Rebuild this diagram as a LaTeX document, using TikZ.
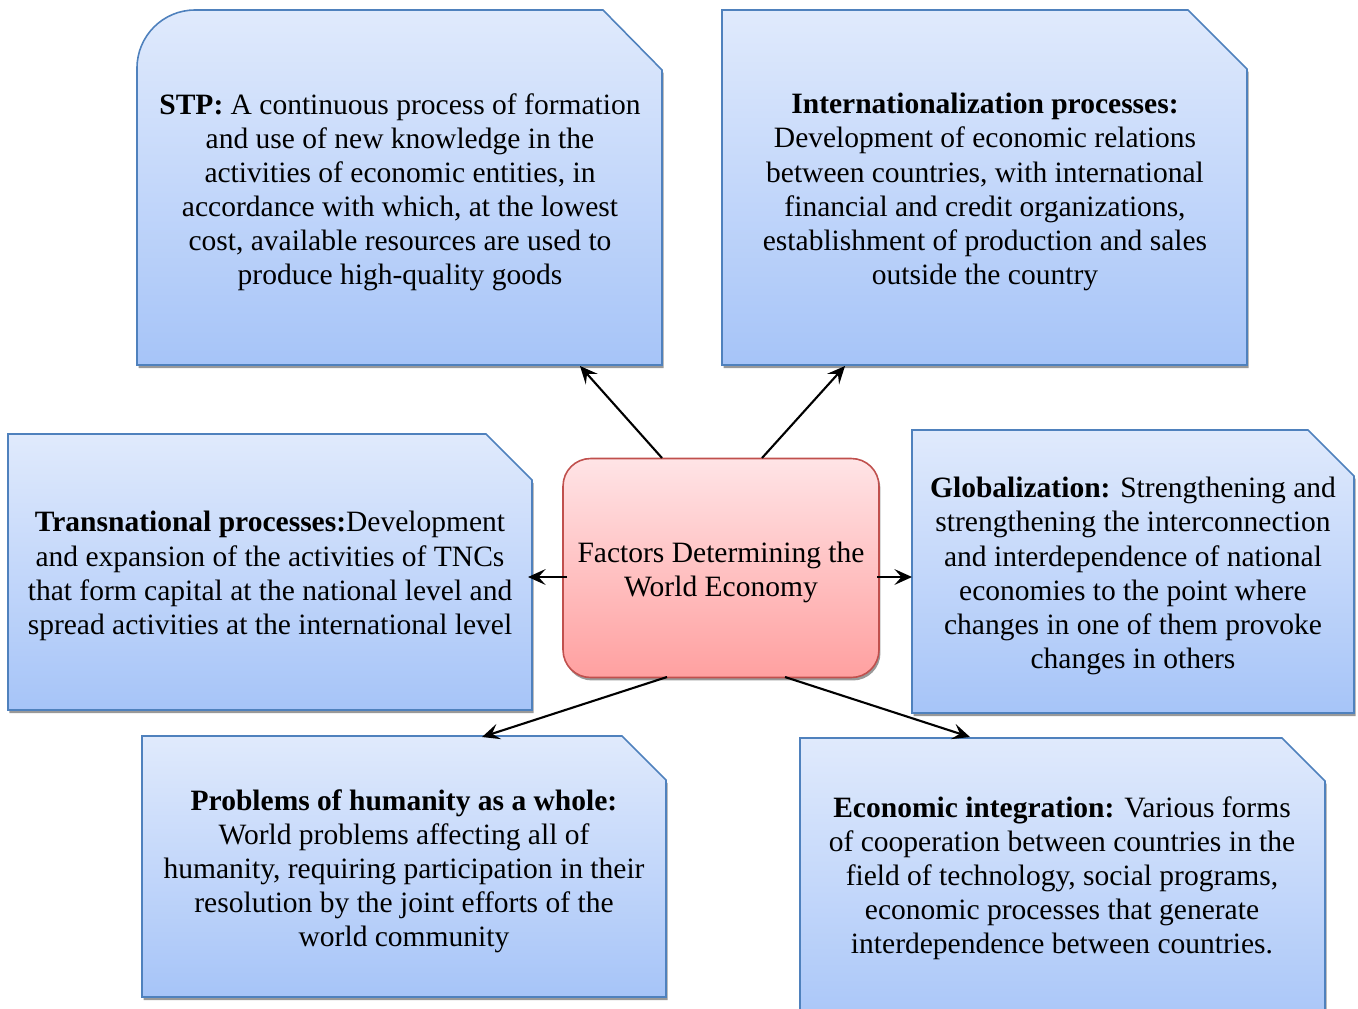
\documentclass[tikz,border=0pt]{standalone}
\usepackage{fontspec}
\setmainfont{Liberation Serif}
\usetikzlibrary{arrows.meta,shadows}

\definecolor{boxtop}{RGB}{224,234,252}
\definecolor{boxbottom}{RGB}{166,196,248}
\definecolor{boxline}{RGB}{79,129,189}
\definecolor{hubtop}{RGB}{255,228,230}
\definecolor{hubbottom}{RGB}{255,160,160}
\definecolor{hubline}{RGB}{192,80,77}

\tikzset{
  factor/.style={draw=boxline, line width=0.9pt, top color=boxtop, bottom color=boxbottom,
    drop shadow={shadow xshift=0.03cm, shadow yshift=-0.06cm, fill=black!40, opacity=1}},
  factortext/.style={align=center, font=\fontsize{16.8}{19.4}\selectfont},
  hub/.style={factortext, draw=hubline, line width=0.9pt, top color=hubtop, bottom color=hubbottom,
    rounded corners=0.55cm, minimum width=6.32cm, minimum height=4.38cm,
    drop shadow={shadow xshift=0.03cm, shadow yshift=-0.06cm, fill=black!40, opacity=1}},
  link/.style={-{Stealth[length=10pt,width=9pt,inset=4pt]}, line width=1.2pt},
}

\begin{document}
\begin{tikzpicture}[x=0.02cm, y=-0.02cm]
\useasboundingbox (0,0) rectangle (1358,1008);
\clip (0,0) rectangle (1358,1008);

\path[factor] (137,365) -- (137,68) .. controls (137,36) and (163,10) .. (195,10)
  -- (603,10) -- (662,70) -- (662,365) -- cycle;
\foreach \l/\t/\r/\b/\c in {722/10/1247/365/59, 8/434/532/710/46, 912/430/1354/713/46,
    142/736/666/997/44, 800/738/1325/1040/43} {
  \path[factor] (\l,\t) -- (\r-\c,\t) -- (\r,\t+\c) -- (\r,\b) -- (\l,\b) -- cycle;
}

\node[factortext] (stp) at (400,192) {\textbf{STP:} A continuous process of formation\\and use of new knowledge in the\\activities of economic entities, in\\accordance with which, at the lowest\\cost, available resources are used to\\produce high-quality goods};
\node[factortext] (intl) at (985,192) {\textbf{Internationalization processes:}\\Development of economic relations\\between countries, with international\\financial and credit organizations,\\establishment of production and sales\\outside the country};
\node[factortext] (trans) at (270,576) {\textbf{Transnational processes:}Development\\and expansion of the activities of TNCs\\that form capital at the national level and\\spread activities at the international level};
\node[factortext] (glob) at (1133,576) {\textbf{Globalization:} Strengthening and\\strengthening the interconnection\\and interdependence of national\\economies to the point where\\changes in one of them provoke\\changes in others};
\node[factortext] (hum) at (404,871) {\textbf{Problems of humanity as a whole:}\\World problems affecting all of\\humanity, requiring participation in their\\resolution by the joint efforts of the\\world community};
\node[factortext] (integ) at (1062,878) {\textbf{Economic integration:} Various forms\\of cooperation between countries in the\\field of technology, social programs,\\economic processes that generate\\interdependence between countries.};

\node[hub] (wec) at (721,568) {\rule{0pt}{17pt}Factors Determining the\\World Economy};

\coordinate (stp-out) at (662,458);   \coordinate (stp-in) at (580,366);
\coordinate (intl-out) at (762,458);  \coordinate (intl-in) at (845,366);
\coordinate (trans-out) at (567,577); \coordinate (trans-in) at (528,577);
\coordinate (glob-out) at (877,577);  \coordinate (glob-in) at (912,577);
\coordinate (hum-out) at (667,677);   \coordinate (hum-in) at (482,737);
\coordinate (integ-out) at (785,677); \coordinate (integ-in) at (970,737);
\foreach \s in {stp, intl, trans, glob, hum, integ} {
  \draw[link] (\s-out) -- (\s-in);
}
\end{tikzpicture}
\end{document}
